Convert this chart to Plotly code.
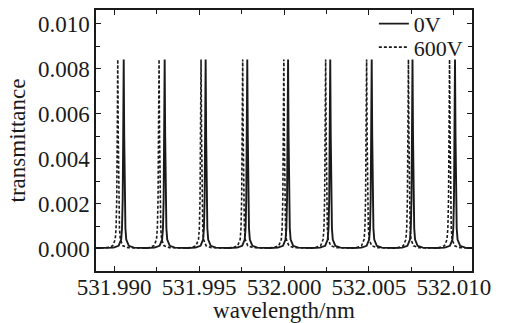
import plotly.graph_objects as go

# Peak centre wavelengths (nm)
peaks_0V = [531.99057, 531.99298, 531.99539, 531.99784, 532.00024,
            532.00272, 532.00516, 532.00756, 532.01006]
peaks_600V = [531.99022, 531.99265, 531.99512, 531.99757, 531.99999,
              532.00245, 532.00486, 532.00732, 532.00974]

# Shape of one transmission peak:
# wavelength offset from the peak centre (nm) and transmittance
profile_offset = [-0.00110, -0.00060, -0.00030, -0.00015, -0.00010, -0.00006,
                  -0.00003, 0.0, 0.00003, 0.00006, 0.00010, 0.00015,
                  0.00030, 0.00060, 0.00110]
profile_value = [0.00002, 0.00004, 0.00012, 0.00040, 0.00090, 0.00220,
                 0.00500, 0.00840, 0.00500, 0.00220, 0.00090, 0.00040,
                 0.00012, 0.00004, 0.00002]

x_range = [531.98894, 532.01106]
series_names = ["0V", "600V"]


def build(centers):
    xs, ys = [x_range[0]], [profile_value[0]]
    for c in centers:
        for o, v in zip(profile_offset, profile_value):
            xs.append(c + o)
            ys.append(v)
    xs.append(x_range[1])
    ys.append(profile_value[-1])
    return xs, ys


x0, y0 = build(peaks_0V)
x6, y6 = build(peaks_600V)

FONT = "Liberation Serif, Times New Roman, serif"
INK = "#1a1a1a"

fig = go.Figure()
fig.add_trace(go.Scatter(x=x0, y=y0, mode="lines", name=series_names[0],
                         line=dict(color=INK, width=1.9), legend="legend"))
fig.add_trace(go.Scatter(x=x6, y=y6, mode="lines", name=series_names[1],
                         line=dict(color=INK, width=1.6, dash="3px,2px"),
                         legend="legend2"))

axis_common = dict(
    showline=True, linecolor=INK, linewidth=1.5, mirror="allticks",
    ticks="inside", ticklen=5, tickwidth=1.2, tickcolor=INK,
    showgrid=False, zeroline=False, automargin=False,
    tickfont=dict(family=FONT, size=23, color=INK),
)

fig.update_xaxes(range=x_range, tick0=531.990, dtick=0.005, tickformat=".3f",
                 minor=dict(dtick=0.0025, ticks="inside", ticklen=4,
                            tickcolor=INK, tickwidth=1.2),
                 ticklabelstandoff=-5,
                 title=dict(text="wavelength/nm", standoff=0,
                            font=dict(family=FONT, size=23, color=INK)),
                 **axis_common)
fig.update_yaxes(range=[-0.001, 0.0106], tick0=0, dtick=0.002, tickformat=".3f",
                 minor=dict(dtick=0.001, ticks="inside", ticklen=4,
                            tickcolor=INK, tickwidth=1.2),
                 title=dict(text="transmittance", standoff=6,
                            font=dict(family=FONT, size=23, color=INK)),
                 **axis_common)

legend_common = dict(xanchor="left", yanchor="middle", bgcolor="rgba(0,0,0,0)",
                     borderwidth=0, font=dict(family=FONT, size=22, color=INK),
                     itemwidth=30, tracegroupgap=0)
fig.update_layout(
    width=511, height=323,
    margin=dict(l=96, r=39, t=10, b=52, autoexpand=False),
    paper_bgcolor="white", plot_bgcolor="white",
    showlegend=True,
    legend=dict(x=0.739, y=0.947, **legend_common),
    legend2=dict(x=0.739, y=0.857, **legend_common),
)

fig.write_html("out.html", config={"displayModeBar": False},
               post_script="document.body.style.margin='0';"
                           "document.body.style.overflow='hidden';")
